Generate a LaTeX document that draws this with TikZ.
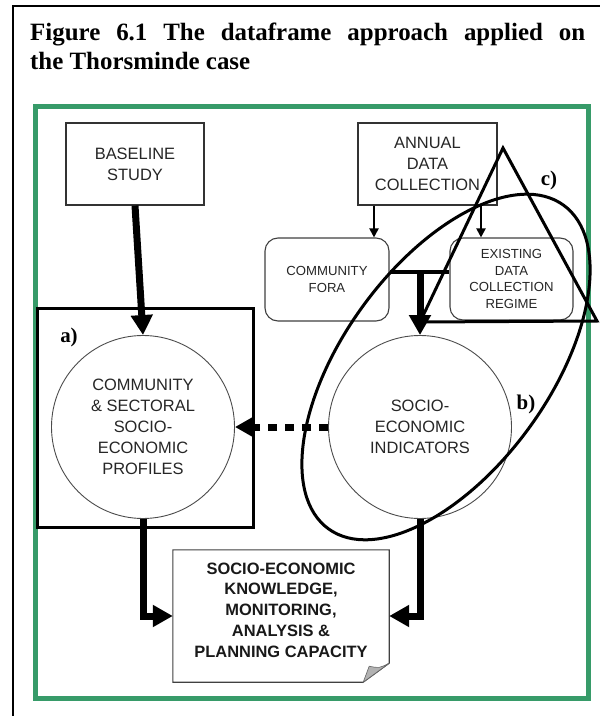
\documentclass[tikz,border=0pt]{standalone}
\usepackage{fontspec}
\setmainfont{Liberation Serif}
\setsansfont{Liberation Sans}
\usetikzlibrary{arrows.meta,calc}
\definecolor{frgreen}{RGB}{55,155,105}
\tikzset{
  boxa/.style={draw=black!80, line width=1.1bp, fill=white, align=center, inner sep=0pt,
    font=\sffamily\fontsize{16.5}{21}\selectfont, text=black!85},
  roundbox/.style={draw=black!75, line width=1.1bp, rounded corners=13bp, fill=white, align=center, inner sep=0pt,
    font=\sffamily\fontsize{13.2}{17}\selectfont, text=black!85},
  circbox/.style={circle, draw=black!70, line width=0.9bp, fill=white, align=center, inner sep=0pt,
    font=\sffamily\fontsize{16.5}{21}\selectfont, text=black!85},
  bigarrow/.style={line width=7bp, -{Triangle[length=20bp,width=21bp]}},
  thinarrow/.style={line width=2bp, -{Triangle[length=9bp,width=9bp]}},
  dotarrow/.style={line width=7bp, dash pattern=on 9bp off 8bp, -{Triangle[length=20bp,width=21bp]}},
  markline/.style={line width=3bp},
  lbl/.style={font=\bfseries\fontsize{21}{21}\selectfont, inner sep=0pt},
}
\begin{document}
\begin{tikzpicture}[x=1bp,y=-1bp]
\useasboundingbox (0,0) rectangle (600,716);
% outer frame
\draw[line width=1.5bp] (13,716) -- (13,6) -- (600,6);
% title
\node[anchor=base west, inner sep=0pt] (t1) at (30,41)
  {\makebox[555bp][s]{\bfseries\fontsize{25}{29}\selectfont Figure 6.1 The dataframe approach applied on}};
\node[anchor=base west, inner sep=0pt] (t2) at (30,70)
  {\bfseries\fontsize{25}{29}\selectfont the Thorsminde case};
% green frame
\draw[frgreen, line width=5bp] (35,107) rectangle (588,698);

% nodes
\node[boxa, minimum width=138bp, minimum height=82bp] (baseline) at (135,164) {BASELINE\\STUDY};
\node[boxa, minimum width=139bp, minimum height=82bp] (annual) at (427.5,164) {ANNUAL\\DATA\\COLLECTION};
\node[roundbox, minimum width=124bp, minimum height=83bp] (fora) at (327,279.5) {COMMUNITY\\FORA};
\node[roundbox, minimum width=123bp, minimum height=82bp] (existing) at (511.5,279) {EXISTING\\DATA\\COLLECTION\\REGIME};
\node[circbox, minimum size=183bp] (profiles) at (143,427) {COMMUNITY\\\& SECTORAL\\SOCIO-\\ECONOMIC\\PROFILES};
\node[circbox, minimum size=183bp] (indicators) at (420,427) {SOCIO-\\ECONOMIC\\INDICATORS};
\node[minimum width=216bp, minimum height=132bp, inner sep=0pt] (know) at (281,616) {};
\draw[line width=1.1bp, draw=black!75, fill=white]
  (know.north west) -- (know.north east) -- ($(know.south east)+(0,-19)$) -- ($(know.south east)+(-26,0)$) -- (know.south west) -- cycle;
\fill[black!30, draw=black!60, line width=0.6bp]
  ($(know.south east)+(-26,0)$) -- ($(know.south east)+(0,-19)$) .. controls ($(know.south east)+(-10,-14)$) .. ($(know.south east)+(-20,-16)$) -- cycle;
\node[align=center, font=\sffamily\bfseries\fontsize{16.5}{20.8}\selectfont, text=black!90] (knowtext) at (281,610)
  {SOCIO-ECONOMIC\\KNOWLEDGE,\\MONITORING,\\ANALYSIS \&\\PLANNING CAPACITY};

% connectors
\draw[bigarrow] (baseline.south) -- (profiles.north);
\coordinate (xa) at (374,0);
\coordinate (xb) at (481,0);
\draw[thinarrow] (annual.south -| xa) -- (fora.north -| xa);
\draw[thinarrow] (annual.south -| xb) -- (existing.north -| xb);
\coordinate (jy) at (420,272);
\draw[line width=3.5bp] (fora.east |- jy) -- (existing.west |- jy);
\draw[bigarrow] (jy) -- (indicators.north);
\draw[dotarrow] (indicators.west) -- (profiles.east);
\draw[bigarrow] (profiles.south) |- (know.west);
\draw[bigarrow] (indicators.south) |- (know.east);

% markings a) b) c)
\draw[markline] (37,308) rectangle (253,527);
\node[lbl] (la) at (69,337) {a)};
\draw[markline, rotate around={54:(446,367)}] (446,367) ellipse [x radius=200, y radius=103];
\node[lbl] (lb) at (526,404) {b)};
\draw[markline, line join=miter] (503,148) -- (597,321) -- (420,322) -- cycle;
\node[lbl] (lc) at (549,180) {c)};
\end{tikzpicture}
\end{document}
